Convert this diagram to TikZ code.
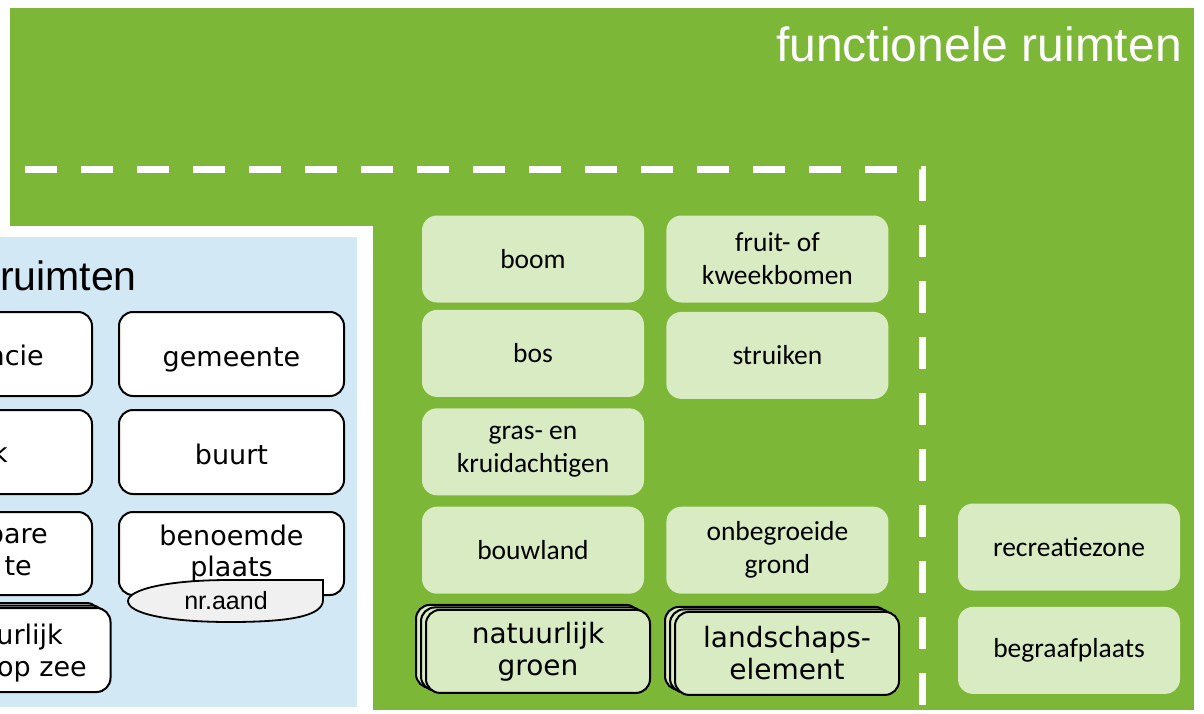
\documentclass[tikz,border=0pt]{standalone}
\usepackage{fontspec}
\usepackage{xcolor}
\usepackage{tikz}
\usetikzlibrary{positioning,shadows}
\newfontfamily\arialfont{Liberation Sans}
\newfontfamily\verdfont{DejaVu Sans}
\newfontfamily\calfont{Carlito}
\definecolor{frgreen}{HTML}{7DB737}
\definecolor{frleaf}{HTML}{D8EBC2}
\definecolor{grblue}{HTML}{D2E8F5}
\definecolor{nrgrey}{HTML}{F0F0F0}

\begin{document}
\begin{tikzpicture}[x=1pt,y=-1pt,node distance=7pt and 22pt,
  leaf/.style={fill=frleaf,rounded corners=15pt,minimum width=222pt,minimum height=87pt,align=center,inner sep=0pt,
    font=\calfont\fontsize{27.5}{33}\selectfont},
  stack/.style={leaf,draw=black,line width=2pt,minimum width=224pt,minimum height=83pt,rounded corners=14pt,
    font=\verdfont\fontsize{28}{32}\selectfont,
    copy shadow={shadow xshift=-10pt,shadow yshift=5pt,fill=frleaf,draw=black,line width=2pt},
    copy shadow={shadow xshift=-5pt,shadow yshift=2.5pt,fill=frleaf,draw=black,line width=2pt}},
  unit/.style={draw=black,line width=2pt,fill=white,rounded corners=14pt,minimum width=225pt,minimum height=84pt,
    align=center,inner sep=0pt,font=\verdfont\fontsize{27}{31.5}\selectfont},
  oneline/.style={text height=24pt,text depth=0pt},
  cut/.style={anchor=base east,inner sep=0pt,font=\verdfont\fontsize{27}{31.5}\selectfont}]
  \useasboundingbox (0,0) rectangle (1204,714);
  \clip (0,0) rectangle (1204,714);
  % panels
  \fill[frgreen] (10,8) rectangle (1194,710);
  \fill[white] (-20,226) rectangle (373,730);
  \fill[grblue] (-20,237) rectangle (357,707);
  \draw[white,line width=7pt,dash pattern=on 32pt off 24pt] (25,170) -- (922,170) -- (922,730);
  \node[anchor=base east,text=white,inner sep=0pt,font=\arialfont\fontsize{48}{48}\selectfont] (frtitle) at (1182,62) {functionele ruimten};
  \node[anchor=base east,inner sep=0pt,font=\arialfont\fontsize{41}{41}\selectfont] (grtitle) at (137,290) {ruimten};

  % functionele ruimten
  \node[leaf] (boom) at (533,259) {boom};
  \node[leaf,right=of boom] (fruit) {fruit- of\\kweekbomen};
  \node[leaf,below=of boom] (bos) {bos};
  \node[leaf,below=9pt of fruit] (struik) {struiken};
  \node[leaf,below=11pt of bos] (gras) {gras- en\\kruidachtigen};
  \node[leaf,below=11pt of gras] (bouw) {bouwland};
  \node[leaf,right=of bouw] (onbegr) {onbegroeide\\grond};
  \node[stack,below=15pt of bouw,xshift=5pt] (natgroen) {natuurlijk\\groen};
  \node[stack,right=23pt of natgroen,yshift=-2pt] (landsch) {landschaps-\\element};
  \node[leaf] (recr) at (1069,547) {recreatiezone};
  \node[leaf,below=16pt of recr] (begr) {begraafplaats};

  % geografische ruimten
  \node[unit,oneline] (gem) at (231.5,354) {gemeente};
  \node[unit,oneline,below=12pt of gem] (buurt) {buurt};
  \node[unit,below=16pt of buurt,minimum height=83pt] (benpl) {benoemde\\plaats};
  \node[unit,left=25pt of gem] (prov) {};
  \node[unit,left=25pt of buurt] (wijk) {};
  \node[unit,left=25pt of benpl,minimum height=83pt] (openb) {};
  \node[unit,minimum height=84pt,
    copy shadow={shadow xshift=-10pt,shadow yshift=5pt,fill=white,draw=black,line width=2pt},
    copy shadow={shadow xshift=-5pt,shadow yshift=2.5pt,fill=white,draw=black,line width=2pt}] (natzee) at (-2,650) {};
  \node[cut] (provtxt) at (44,365) {ncie};
  \node[cut] (wijktxt) at (8,462) {k};
  \node[cut] (openbtxt) at (48,543) {bare};
  \node[cut] (openbtxt2) at (32,575) {te};
  \node[cut] (natzeetxt) at (63,644) {urlijk};
  \node[cut] (natzeetxt2) at (87,676) {op zee};
  \draw[fill=nrgrey,line width=1.8pt] (323,580) -- (323,600) .. controls (323,616) and (290,622) .. (230,622)
    .. controls (165,622) and (128,613) .. (128,601) .. controls (128,590) and (165,580) .. (230,580) -- cycle;
  \node[inner sep=0pt,font=\arialfont\fontsize{25}{25}\selectfont] (nraand) at (226,601) {nr.aand};
\end{tikzpicture}
\end{document}
